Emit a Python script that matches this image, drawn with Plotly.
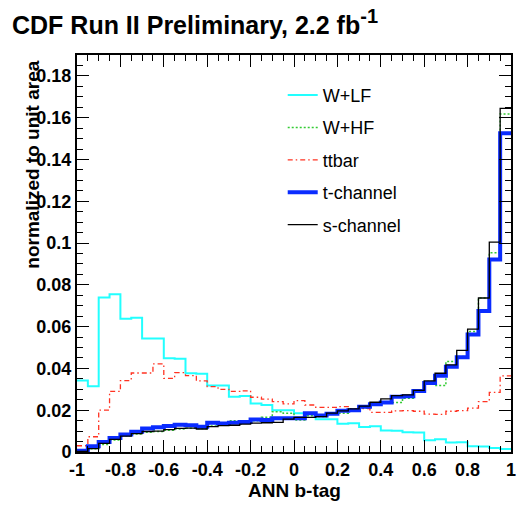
import numpy as np
import plotly.graph_objects as go

# ANN b-tag output, 40 equal bins on [-1, 1]
N_BINS = 40
X_LO, X_HI = -1.0, 1.0

# bin contents, normalized to unit area
w_lf = [0.0342, 0.0315, 0.0740, 0.0755, 0.0638, 0.0643, 0.0543, 0.0543, 0.0449, 0.0446,
        0.0377, 0.0375, 0.0318, 0.0318, 0.0265, 0.0268, 0.0232, 0.0225, 0.0200, 0.0200,
        0.0186, 0.0182, 0.0157, 0.0157, 0.0135, 0.0137, 0.0120, 0.0123, 0.0103, 0.0102,
        0.0094, 0.0093, 0.0056, 0.0061, 0.0045, 0.0047, 0.0027, 0.0026, 0.0019, 0.0014]

w_hf = [0.0003, 0.0015, 0.0036, 0.0058, 0.0078, 0.0086, 0.0095, 0.0098, 0.0104, 0.0110,
        0.0114, 0.0112, 0.0125, 0.0130, 0.0149, 0.0147, 0.0150, 0.0166, 0.0193, 0.0186,
        0.0153, 0.0174, 0.0170, 0.0183, 0.0186, 0.0201, 0.0210, 0.0225, 0.0237, 0.0237,
        0.0257, 0.0289, 0.0337, 0.0318, 0.0433, 0.0457, 0.0577, 0.0737, 0.0953, 0.1618]

ttbar = [0.0030, 0.0073, 0.0200, 0.0290, 0.0342, 0.0378, 0.0378, 0.0422, 0.0352, 0.0380,
         0.0366, 0.0340, 0.0313, 0.0300, 0.0290, 0.0293, 0.0262, 0.0253, 0.0241, 0.0230,
         0.0246, 0.0225, 0.0214, 0.0214, 0.0217, 0.0208, 0.0208, 0.0190, 0.0190, 0.0197,
         0.0198, 0.0195, 0.0181, 0.0180, 0.0195, 0.0198, 0.0210, 0.0241, 0.0285, 0.0364]

t_chan = [0.0006, 0.0027, 0.0048, 0.0067, 0.0084, 0.0097, 0.0112, 0.0118, 0.0124, 0.0130,
          0.0128, 0.0121, 0.0140, 0.0136, 0.0140, 0.0143, 0.0155, 0.0153, 0.0161, 0.0161,
          0.0161, 0.0186, 0.0175, 0.0183, 0.0197, 0.0200, 0.0217, 0.0229, 0.0237, 0.0265,
          0.0267, 0.0292, 0.0330, 0.0365, 0.0408, 0.0454, 0.0562, 0.0675, 0.0921, 0.1525]

s_chan = [0.0003, 0.0016, 0.0041, 0.0060, 0.0076, 0.0088, 0.0098, 0.0100, 0.0107, 0.0113,
          0.0114, 0.0110, 0.0121, 0.0126, 0.0128, 0.0133, 0.0138, 0.0140, 0.0142, 0.0157,
          0.0166, 0.0166, 0.0169, 0.0186, 0.0197, 0.0206, 0.0220, 0.0238, 0.0254, 0.0270,
          0.0273, 0.0295, 0.0340, 0.0377, 0.0417, 0.0486, 0.0588, 0.0737, 0.1004, 0.1645]

x_ticks = [-1, -0.8, -0.6, -0.4, -0.2, 0, 0.2, 0.4, 0.6, 0.8, 1]
x_tick_text = ["-1", "-0.8", "-0.6", "-0.4", "-0.2", "0", "0.2", "0.4", "0.6", "0.8", "1"]
y_ticks = [0, 0.02, 0.04, 0.06, 0.08, 0.1, 0.12, 0.14, 0.16, 0.18]
y_tick_text = ["0", "0.02", "0.04", "0.06", "0.08", "0.1", "0.12", "0.14", "0.16", "0.18"]

edges = np.linspace(X_LO, X_HI, N_BINS + 1)

FONT = "Liberation Sans"

series = [
    ("W+LF", w_lf, dict(color="#22ffff", width=2)),
    ("W+HF", w_hf, dict(color="#33cc33", width=1.5, dash="2px,2px")),
    ("ttbar", ttbar, dict(color="#ff3322", width=1.3, dash="5px,3px,1.5px,3px")),
    ("t-channel", t_chan, dict(color="#0a2cff", width=4)),
    ("s-channel", s_chan, dict(color="#000000", width=1.3)),
]

fig = go.Figure()
for i, (name, vals, line) in enumerate(series):
    fig.add_trace(go.Scatter(
        x=edges, y=list(vals) + [vals[-1]],
        mode="lines", line=dict(shape="hv", **line),
        name=name, legendgroup=f"g{i}",
    ))

axis_common = dict(
    showgrid=False, zeroline=False, showline=True, linecolor="black", linewidth=2,
    mirror="allticks", ticks="inside", tickcolor="black", tickwidth=1,
    automargin=False,
    tickfont=dict(family=FONT, size=18, color="black", weight="bold"),
)

fig.update_xaxes(
    range=[X_LO, X_HI], tickmode="array", tickvals=x_ticks, ticktext=x_tick_text,
    ticklen=12, minor=dict(dtick=0.05, ticklen=6, ticks="inside", tickcolor="black", tickwidth=1),
    **axis_common,
)
fig.update_yaxes(
    range=[0, 0.19], tickmode="array", tickvals=y_ticks, ticktext=y_tick_text,
    ticklen=12, minor=dict(dtick=0.005, ticklen=6, ticks="inside", tickcolor="black", tickwidth=1),
    **axis_common,
)

fig.update_layout(
    width=518, height=505,
    margin=dict(l=77, r=7, t=55, b=53, autoexpand=False),
    paper_bgcolor="white", plot_bgcolor="white",
    font=dict(family=FONT, color="black"),
    title=dict(
        text='CDF Run II Preliminary, 2.2 fb<sup><span style="font-size:20px">-1</span></sup>',
        x=12 / 518, xanchor="left", y=1 - 25 / 505, yanchor="middle",
        font=dict(family=FONT, size=25, weight="bold", color="black"),
    ),
    legend=dict(
        x=0.474, y=0.945, xanchor="left", yanchor="top",
        bgcolor="rgba(0,0,0,0)", borderwidth=0,
        font=dict(family=FONT, size=18, color="black"),
        traceorder="grouped", tracegroupgap=6,
    ),
    showlegend=True,
)

fig.add_annotation(
    text="normalized to unit area", textangle=-90,
    xref="paper", yref="paper", x=-0.102, y=0.99, xanchor="center", yanchor="top",
    showarrow=False, font=dict(family=FONT, size=19, weight="bold", color="black"),
)
fig.add_annotation(
    text="ANN b-tag",
    xref="paper", yref="paper", x=0.5, y=-0.096, xanchor="center", yanchor="middle",
    showarrow=False, font=dict(family=FONT, size=19, weight="bold", color="black"),
)

fig.write_html("out.html")
